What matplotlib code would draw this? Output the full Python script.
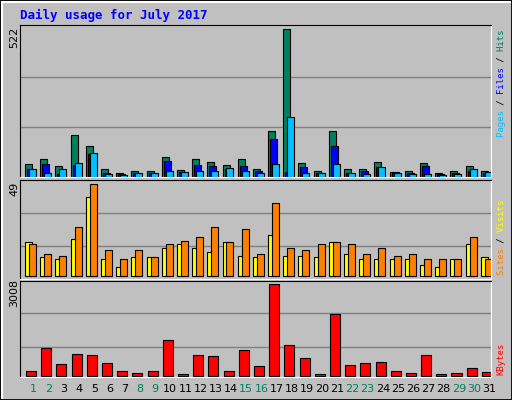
import matplotlib.pyplot as plt
import numpy as np

days = list(range(1, 32))
hits = [47, 65, 38, 150, 111, 30, 15, 22, 22, 69, 26, 65, 54, 44, 62, 30,
        164, 522, 51, 22, 164, 30, 30, 54, 19, 22, 51, 15, 22, 40, 22]
files = [27, 47, 12, 44, 83, 15, 9, 14, 14, 58, 18, 44, 40, 30, 40, 22,
         133, 19, 37, 14, 111, 15, 22, 37, 18, 14, 40, 9, 14, 22, 14]
pages = [30, 14, 30, 51, 86, 11, 7, 14, 14, 22, 18, 22, 22, 33, 22, 14,
         47, 211, 14, 14, 47, 14, 11, 37, 14, 11, 11, 7, 11, 30, 18]
sites = [18, 10, 9, 20, 42, 9, 5, 10, 10, 15, 17, 15, 13, 18, 11, 10,
         22, 11, 11, 10, 18, 12, 9, 9, 9, 9, 6, 5, 9, 17, 10]
visits = [17, 12, 11, 26, 49, 14, 9, 14, 10, 17, 19, 21, 26, 18, 25, 12,
          39, 15, 14, 17, 18, 17, 12, 15, 11, 12, 9, 9, 9, 21, 9]
kbytes = [176, 933, 406, 736, 703, 439, 176, 110, 176, 1197, 77, 703, 670, 176, 867, 340,
          3008, 1032, 604, 77, 2020, 373, 439, 472, 176, 110, 703, 77, 110, 274, 143]
weekend = {1, 2, 8, 9, 15, 16, 22, 23, 29, 30}

W, H = 512, 400
fig = plt.figure(figsize=(5.12, 4), dpi=100, facecolor='#c0c0c0')
# outer frame
fig.add_artist(plt.Rectangle((0, 0), 1, 1, transform=fig.transFigure, fill=False, ec='black', lw=2))
fig.add_artist(plt.Line2D([2/W, 2/W], [2/H, 1-2/H], color='white', lw=1.5))
fig.add_artist(plt.Line2D([2/W, 1-2/W], [1-2/H, 1-2/H], color='white', lw=1.5))
fig.text(20/W, 1-15/H, 'Daily usage for July 2017', color='#0000ff', fontsize=9,
         fontweight='bold', family='DejaVu Sans Mono', va='center')

x = np.arange(31)

def panel(top, bot):
    ax = fig.add_axes([20/W, 1-bot/H, 471/W, (bot-top)/H])
    ax.set_facecolor('#c0c0c0')
    ax.set_xlim(0, 31)
    ax.set_xticks([]); ax.set_yticks([])
    for s in ax.spines.values():
        s.set_color('black')
    ax.spines['right'].set_color('white'); ax.spines['bottom'].set_color('white')
    return ax

ax1 = panel(25, 177)
ax1.set_ylim(0, 537)
for g in (176, 354):
    ax1.axhline(g, color='#808080', lw=1, zorder=0)
ax1.bar(x + 0.33, hits, 0.46, align='edge', color='#00805c', ec='black', lw=0.8)
ax1.bar(x + 0.46, files, 0.46, align='edge', color='#0000ff', ec='black', lw=0.8)
ax1.bar(x + 0.59, pages, 0.46, align='edge', color='#00c0ff', ec='black', lw=0.8)

ax2 = panel(180, 279)
ax2.set_ylim(-1.5, 51.3)
for g in (16, 33.5):
    ax2.axhline(g, color='#808080', lw=1, zorder=0)
ax2.bar(x + 0.33, sites, 0.46, align='edge', color='#ffff00', ec='black', lw=0.8)
ax2.bar(x + 0.59, visits, 0.46, align='edge', color='#ff8000', ec='black', lw=0.8)

ax3 = panel(281, 377)
ax3.set_ylim(-30, 3117)
for g in (966, 2053):
    ax3.axhline(g, color='#808080', lw=1, zorder=0)
ax3.bar(x + 0.4, kbytes, 0.66, align='edge', color='#ff0000', ec='black', lw=0.8)

# max labels
fig.text(14/W, 1-37/H, str(max(hits)), rotation=90, fontsize=8, va='center', ha='center')
fig.text(14/W, 1-189/H, str(max(visits)), rotation=90, fontsize=8, va='center', ha='center')
fig.text(14/W, 1-293/H, str(max(kbytes)), rotation=90, fontsize=8, va='center', ha='center')

# right side legends: layered monospace strings so parts line up
def vlabel(y, parts):
    full = ''.join(p for p, _ in parts)
    pos = 0
    for txt, col in parts:
        s = ' ' * pos + txt + ' ' * (len(full) - pos - len(txt))
        fig.text(501/W, 1-y/H, s, rotation=90, fontsize=6.5, color=col,
                 family='DejaVu Sans Mono', va='center', ha='center')
        pos += len(txt)

vlabel(83, [('Pages', '#00c0ff'), (' / ', 'black'), ('Files', '#0000ff'),
            (' / ', 'black'), ('Hits', '#00805c')])
vlabel(237, [('Sites', '#ff8000'), (' / ', 'black'), ('Visits', '#ffff00')])
vlabel(359, [('KBytes', '#ff0000')])

for d in days:
    col = '#00805c' if d in weekend else 'black'
    fig.text((20 + (d - 1) * 15.19 + 13.5)/W, 1-389/H, str(d), color=col, fontsize=8,
             ha='center', va='center')

fig.savefig('out.png', dpi=100, facecolor=fig.get_facecolor())
